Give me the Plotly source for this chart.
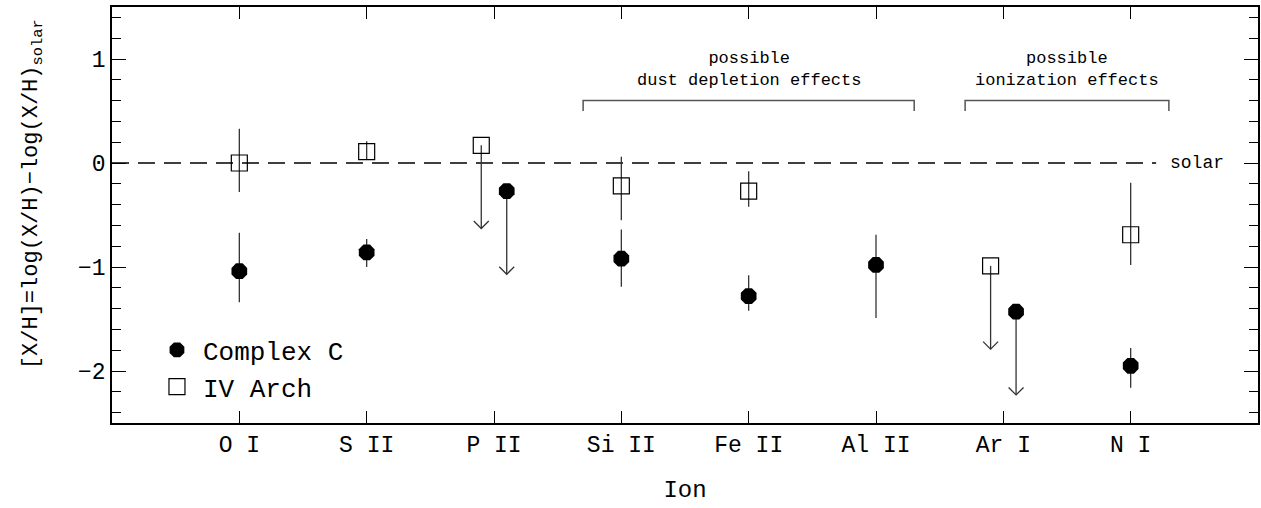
import plotly.graph_objects as go

# ---------------- data ----------------
ions = ["O I", "S II", "P II", "Si II", "Fe II", "Al II", "Ar I", "N I"]
ion_pos = [1, 2, 3, 4, 5, 6, 7, 8]

# Complex C (filled circles): detections
cc_ions = ["O I", "S II", "Si II", "Fe II", "Al II", "N I"]
cc_val = [-1.04, -0.86, -0.92, -1.28, -0.98, -1.95]
cc_err_plus = [0.37, 0.13, 0.28, 0.20, 0.29, 0.17]
cc_err_minus = [0.30, 0.14, 0.27, 0.14, 0.51, 0.21]
# Complex C upper limits
cc_lim_ions = ["P II", "Ar I"]
cc_lim_val = [-0.27, -1.43]

# IV Arch (open squares): detections
iv_ions = ["O I", "S II", "Si II", "Fe II", "N I"]
iv_val = [0.00, 0.11, -0.22, -0.27, -0.69]
iv_err_plus = [0.33, 0.10, 0.28, 0.19, 0.50]
iv_err_minus = [0.28, 0.08, 0.33, 0.15, 0.29]
# IV Arch upper limits
iv_lim_ions = ["P II", "Ar I"]
iv_lim_val = [0.17, -0.99]

limit_length = 0.8
limit_offset_cc = 0.1
limit_offset_iv = -0.1

bracket_labels = ["possible<br>dust depletion effects", "possible<br>ionization effects"]
bracket_start = [3.7, 6.7]
bracket_end = [6.3, 8.3]
bracket_level = 0.6
bracket_drop = 0.1

solar_level = 0.0
solar_line_end = 8.2
solar_label_x = 8.52

y_title = "[X/H]=log(X/H)−log(X/H)<sub>solar</sub>"
x_title = "Ion"

# ---------------- helpers ----------------
pos = dict(zip(ions, ion_pos))
FONT = "Liberation Mono"
INK = "#000000"
BAR = "#333333"

XR = [0, 9]
YR = [-2.5, 1.5]
W, H = 1261, 508
ML, MR, MT, MB = 112, 1, 7, 85
PW, PH = W - ML - MR, H - MT - MB
px_x = PW / (XR[1] - XR[0])
px_y = PH / (YR[1] - YR[0])
head_dx = 7.5 / px_x
head_dy = 7.5 / px_y


def arrows(xs, ys, length):
    ax, ay = [], []
    for x, y in zip(xs, ys):
        tip = y - length
        ax += [x, x, None, x - head_dx, x, x + head_dx, None]
        ay += [y, tip, None, tip + head_dy, tip, tip + head_dy, None]
    return ax, ay


fig = go.Figure()

# solar dashed line
fig.add_trace(go.Scatter(
    x=[XR[0], solar_line_end], y=[solar_level, solar_level], mode="lines",
    line=dict(color=INK, width=1.3, dash="17px,9px"), showlegend=False, hoverinfo="skip"))

# brackets
for s, e in zip(bracket_start, bracket_end):
    fig.add_trace(go.Scatter(
        x=[s, s, e, e],
        y=[bracket_level - bracket_drop, bracket_level, bracket_level, bracket_level - bracket_drop],
        mode="lines", line=dict(color="#555555", width=1.5), showlegend=False, hoverinfo="skip"))

# upper-limit arrows
iv_lx = [pos[i] + limit_offset_iv for i in iv_lim_ions]
cc_lx = [pos[i] + limit_offset_cc for i in cc_lim_ions]
for xs, ys in ((iv_lx, iv_lim_val), (cc_lx, cc_lim_val)):
    ax, ay = arrows(xs, ys, limit_length)
    fig.add_trace(go.Scatter(x=ax, y=ay, mode="lines",
                             line=dict(color=BAR, width=1.3),
                             showlegend=False, hoverinfo="skip"))

# Complex C detections
fig.add_trace(go.Scatter(
    x=[pos[i] for i in cc_ions], y=cc_val, mode="markers", name="Complex C",
    marker=dict(symbol="octagon", size=17, color=INK, line=dict(width=0)),
    error_y=dict(type="data", symmetric=False, array=cc_err_plus, arrayminus=cc_err_minus,
                 width=0, thickness=1.3, color=BAR)))
# IV Arch detections
fig.add_trace(go.Scatter(
    x=[pos[i] for i in iv_ions], y=iv_val, mode="markers", name="IV Arch",
    marker=dict(symbol="square-open", size=16, color=INK, line=dict(width=1.2, color=INK)),
    error_y=dict(type="data", symmetric=False, array=iv_err_plus, arrayminus=iv_err_minus,
                 width=0, thickness=1.3, color=BAR)))
# limit markers
fig.add_trace(go.Scatter(
    x=cc_lx, y=cc_lim_val, mode="markers", showlegend=False,
    marker=dict(symbol="octagon", size=17, color=INK, line=dict(width=0))))
fig.add_trace(go.Scatter(
    x=iv_lx, y=iv_lim_val, mode="markers", showlegend=False,
    marker=dict(symbol="square-open", size=16, color=INK, line=dict(width=1.2, color=INK))))

annotations = []
for lab, s, e in zip(bracket_labels, bracket_start, bracket_end):
    annotations.append(dict(x=(s + e) / 2, y=bracket_level, xref="x", yref="y",
                            text=lab, showarrow=False, yanchor="bottom", yshift=9,
                            font=dict(family=FONT, size=17, color=INK)))
annotations.append(dict(x=solar_label_x, y=solar_level, xref="x", yref="y", text="solar",
                        showarrow=False, font=dict(family=FONT, size=18, color=INK)))
# y-axis title (placed as in the reference: shifted up because of the subscript)
annotations.append(dict(x=(33 - ML) / PW, y=1 - (194 - MT) / PH, xref="paper", yref="paper",
                        text=y_title, textangle=-90, showarrow=False,
                        xanchor="center", yanchor="middle",
                        font=dict(family=FONT, size=22, color=INK)))

fig.update_layout(
    width=W, height=H, margin=dict(l=ML, r=MR, t=MT, b=MB),
    paper_bgcolor="white", plot_bgcolor="white",
    font=dict(family=FONT, color=INK),
    annotations=annotations,
    legend=dict(x=0.034, y=0.232, xanchor="left", yanchor="top", itemwidth=42,
                font=dict(family=FONT, size=26, color=INK), bgcolor="rgba(0,0,0,0)",
                tracegroupgap=0),
    xaxis=dict(range=XR, tickvals=ion_pos, ticktext=ions, ticks="inside", ticklen=12,
               tickwidth=1.3, tickcolor=INK, showline=True, linecolor=INK, linewidth=1.5,
               mirror="allticks", showgrid=False, zeroline=False,
               tickfont=dict(family=FONT, size=23),
               title=dict(text=x_title, font=dict(family=FONT, size=24), standoff=22)),
    yaxis=dict(range=YR, tickvals=[-2, -1, 0, 1], ticks="inside", ticklen=14,
               tickwidth=1.3, tickcolor=INK, showline=True, linecolor=INK, linewidth=1.5,
               mirror="allticks", showgrid=False, zeroline=False,
               minor=dict(ticks="inside", dtick=0.2, tick0=0, ticklen=9, tickwidth=1.3,
                          tickcolor=INK, showgrid=False),
               tickfont=dict(family=FONT, size=23)),
)

fig.write_html(
    "out.html",
    config={"responsive": False, "displayModeBar": False},
    post_script="document.body.style.margin='0';document.body.style.padding='0';"
                "document.body.style.overflow='hidden';"
                "document.documentElement.style.overflow='hidden';",
)
